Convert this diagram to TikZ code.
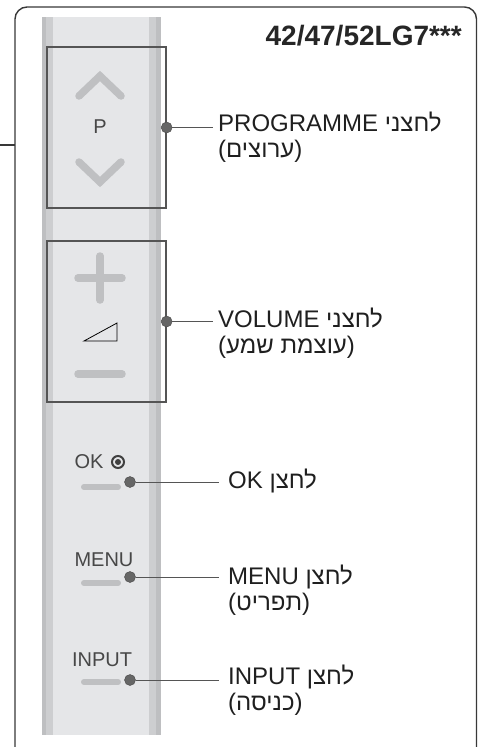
\documentclass[tikz,border=0pt]{standalone}
\usepackage{fontspec}
\setmainfont{Liberation Sans}
\newfontfamily\hebfont[Script=Hebrew]{Liberation Sans}
\TeXXeTstate=1
\usetikzlibrary{positioning}
\definecolor{stripdark}{HTML}{BEBFC1}
\definecolor{stripmid}{HTML}{CDCED0}
\definecolor{striplight}{HTML}{E5E6E8}
\definecolor{keygrey}{HTML}{BFC0C2}
\definecolor{edge}{HTML}{555555}
\tikzstyle{bezel} = [draw=black!78,line width=1.4pt,rounded corners=12pt]
\tikzstyle{keybox} = [draw=edge,line width=1.3pt,rectangle,inner sep=0,minimum width=119pt,minimum height=161pt]
\tikzstyle{keymark} = [draw=keygrey,line width=7.5pt,line cap=round]
\tikzstyle{marktext} = [font=\fontsize{20}{22}\selectfont,text=black!72,inner sep=0]
\tikzstyle{lead} = [-,draw=edge,line width=0.8pt]
\tikzstyle{site} = [draw=black!72,circle,minimum size=11pt,inner sep=0pt,outer sep=0pt,fill=black!60]
\tikzstyle{keytext} = [font=\hebfont\fontsize{24}{26}\selectfont,text=black!88,inner sep=0,anchor=base west]
\def \lx {218}
\def \ly {228}

\begin{document}
\begin{tikzpicture}[x=1pt,y=-1pt]
  \useasboundingbox (0,0) rectangle (480,747);
  \draw[bezel] (15,747) -- (15,7) -- (476.5,7) -- (476.5,747);
  \draw[bezel] (0,145) -- (15,145);
  % side of the set
  \fill[stripdark] (42,17) rectangle (161,735);
  \fill[stripmid] (46,17) rectangle (156,735);
  \fill[striplight] (53,17) rectangle (149,735);
  \node[font=\bfseries\fontsize{28}{32}\selectfont,text=black!85,inner sep=0,anchor=base east] (model) at (462,45) {42/47/52LG7***};

  \node[keybox] (prog) at (106.5,127.5) {};
  \draw[keymark] (79,96) -- (100,76) -- (121,96);
  \node[marktext] (ptag) at (100,127) {P};
  \draw[keymark] (79,162) -- (100,182) -- (121,162);
  \node[site] (pdot) at (prog.east) {};
  \node[keytext] (plab) at (\lx,131.6) {\beginR לחצני PROGRAMME\endR};
  \node[keytext] (plabb) at (\lx,157) {\beginR(ערוצים)\endR};
  \draw[lead,shorten >=5pt] (pdot) -- (pdot -| plab.west);

  \node[keybox] (vol) at (106.5,321.5) {};
  \draw[keymark] (100,256) -- (100,300);
  \draw[keymark] (78,278) -- (122,278);
  \draw[black,line width=0.8pt] (84,341) -- (117,341) -- (117,323) -- cycle;
  \draw[keymark] (78,374) -- (122,374);
  \node[site] (vdot) at (vol.east) {};
  \node[keytext] (vlab) at (\lx,327.6) {\beginR לחצני VOLUME\endR};
  \node[keytext] (vlabb) at (\lx,353) {\beginR(עוצמת שמע)\endR};
  \draw[lead,shorten >=5pt] (vdot) -- (vdot -| vlab.west);

  \node[marktext] (oktag) at (89,462) {OK};
  \draw[black!75,line width=2pt] (118,462) circle (6pt);
  \fill[black!75] (118,462) circle (3pt);
  \draw[keymark,line width=6pt] (84,487) -- (118,487);
  \node[site] (okdot) at (130,482) {};
  \node[keytext] (oklab) at (\ly,488.6) {\beginR לחצן OK\endR};
  \draw[lead,shorten >=9pt] (okdot) -- (okdot -| oklab.west);

  \node[marktext] (menutag) at (104,560) {MENU};
  \draw[keymark,line width=6pt] (84,583) -- (118,583);
  \node[site] (menudot) at (130,577) {};
  \node[keytext] (menulab) at (\ly,584.6) {\beginR לחצן MENU\endR};
  \node[keytext] (menulabb) at (\ly,610) {\beginR(תפריט)\endR};
  \draw[lead,shorten >=9pt] (menudot) -- (menudot -| menulab.west);

  \node[marktext] (inputtag) at (102,660) {INPUT};
  \draw[keymark,line width=6pt] (84,682) -- (118,682);
  \node[site] (inputdot) at (130,680) {};
  \node[keytext] (inputlab) at (\ly,684.6) {\beginR לחצן INPUT\endR};
  \node[keytext] (inputlabb) at (\ly,710) {\beginR(כניסה)\endR};
  \draw[lead,shorten >=9pt] (inputdot) -- (inputdot -| inputlab.west);
\end{tikzpicture}
\end{document}
